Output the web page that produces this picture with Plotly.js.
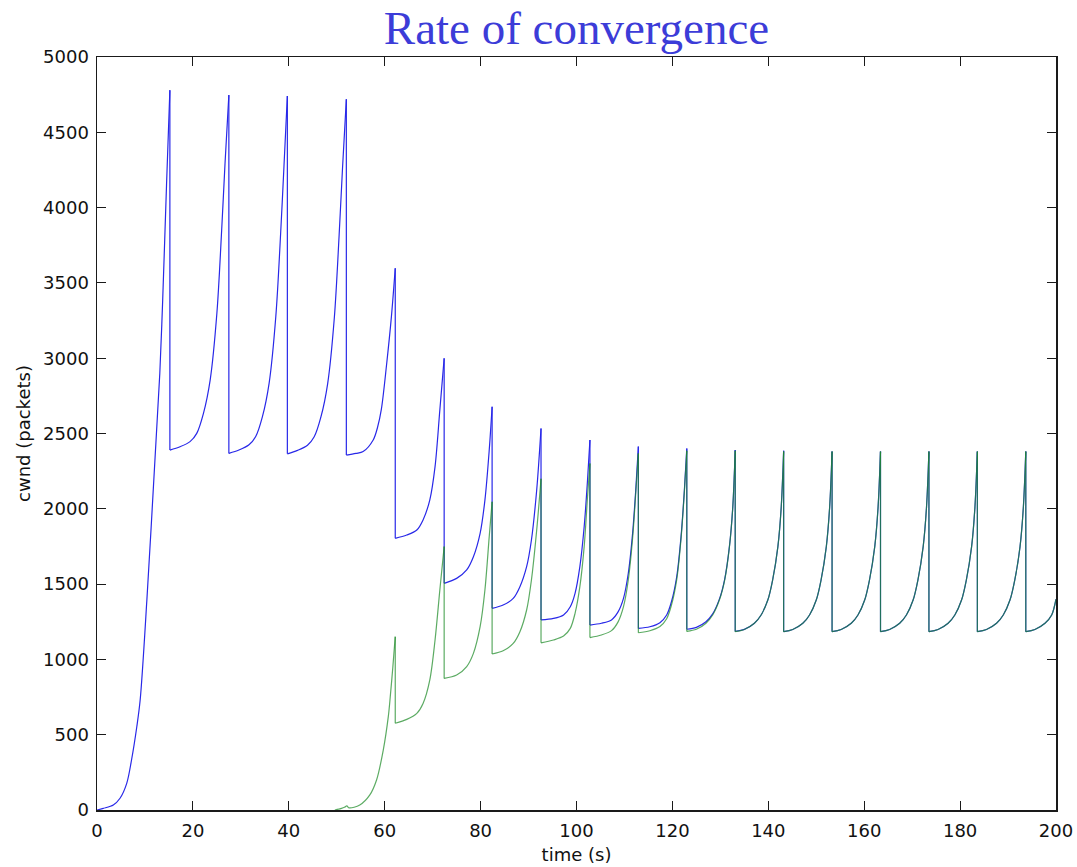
<!DOCTYPE html>
<html>
<head>
<meta charset="utf-8">
<script src="https://cdn.plot.ly/plotly-3.0.1.min.js"></script>
<style>html,body{margin:0;padding:0;background:#fff;}#chart{width:1077px;height:867px;}</style>
</head>
<body>
<div id="chart"></div>
<script>
// Values
const chartTitle = "Rate of convergence";
const xTitle = "time (s)";
const yTitle = "cwnd (packets)";

const blueT = [
  0, 1.3, 3.4, 4.8, 6.2, 7.2, 8.3, 9.0, 10.4, 12.2, 13.1, 13.7, 14.5, 15.2,
  15.2, 17.3, 19.4, 20.8, 22.2, 23.6, 25.0, 26.0, 26.7, 27.5,
  27.5, 29.6, 31.7, 33.1, 34.5, 35.9, 37.3, 38.3, 39.0, 39.7,
  39.7, 41.8, 43.9, 45.3, 46.7, 48.1, 49.5, 50.5, 51.2, 52.0,
  52.0, 54.0, 55.5, 57.6, 58.5, 59.3, 60.4, 61.4, 62.2,
  62.2, 64.6, 66.7, 68.0, 69.4, 70.5, 71.5, 72.4,
  72.4, 75.0, 77.1, 78.5, 79.9, 80.9, 81.8, 82.4,
  82.4, 84.7, 86.8, 88.2, 89.6, 90.6, 91.7, 92.6,
  92.6, 95.2, 97.3, 98.7, 99.7, 100.7, 101.6, 102.3, 102.8,
  102.8, 105.2, 107.3, 108.7, 109.8, 110.8, 111.7, 112.4, 112.9,
  112.9, 115.3, 117.4, 118.8, 119.8, 120.9, 121.8, 122.5, 123.0,
  123.0, 125.0, 127.0, 128.4, 129.8, 130.9, 131.9, 132.6, 133.1,
  133.1, 135.0, 137.1, 138.5, 139.9, 140.9, 142.0, 142.7, 143.2,
  143.2, 145.1, 147.2, 148.6, 150.0, 151.0, 152.1, 152.8, 153.3,
  153.3, 155.2, 157.3, 158.7, 160.1, 161.1, 162.2, 162.9, 163.4,
  163.4, 165.3, 167.4, 168.8, 170.2, 171.2, 172.3, 173.0, 173.5,
  173.5, 175.4, 177.5, 178.9, 180.3, 181.3, 182.4, 183.1, 183.6,
  183.6, 185.5, 187.6, 189.0, 190.4, 191.4, 192.5, 193.2, 193.7,
  193.7, 195.6, 197.7, 199.1, 200.0
];
const blueW = [
  0, 11, 33, 78, 177, 332, 553, 730, 1394, 2390, 2900, 3386, 4150, 4780,
  2390, 2412, 2446, 2501, 2634, 2855, 3298, 3851, 4294, 4747,
  2368, 2390, 2425, 2480, 2612, 2835, 3280, 3830, 4280, 4741,
  2365, 2388, 2422, 2478, 2610, 2830, 3270, 3820, 4260, 4719,
  2357, 2368, 2380, 2457, 2540, 2660, 2960, 3276, 3597,
  1804, 1826, 1859, 1926, 2058, 2280, 2656, 2999,
  1505, 1538, 1594, 1682, 1837, 2058, 2390, 2678,
  1339, 1361, 1405, 1483, 1616, 1793, 2125, 2533,
  1262, 1272, 1295, 1350, 1439, 1616, 1881, 2191, 2457,
  1228, 1240, 1262, 1317, 1405, 1572, 1837, 2147, 2413,
  1206, 1217, 1244, 1295, 1383, 1549, 1815, 2125, 2400,
  1200, 1213, 1250, 1302, 1400, 1532, 1752, 2016, 2390,
  1186, 1199, 1240, 1295, 1394, 1527, 1749, 2014, 2385,
  1184, 1199, 1240, 1295, 1394, 1527, 1749, 2014, 2380,
  1184, 1199, 1240, 1295, 1394, 1527, 1749, 2014, 2380,
  1184, 1199, 1240, 1295, 1394, 1527, 1749, 2014, 2380,
  1184, 1199, 1240, 1295, 1394, 1527, 1749, 2014, 2380,
  1184, 1199, 1240, 1295, 1394, 1527, 1749, 2014, 2380,
  1184, 1199, 1240, 1295, 1400
];

const greenT = [
  49.6, 51.0, 51.6, 52.1, 52.6, 54.8, 56.9, 58.3, 59.7, 60.75, 61.1, 61.7, 62.2,
  62.2, 64.6, 66.7, 68.0, 69.4, 70.5, 71.5, 72.4,
  72.4, 75.0, 77.1, 78.5, 79.9, 80.9, 81.8, 82.4,
  82.4, 84.7, 86.8, 88.2, 89.6, 90.6, 91.7, 92.6,
  92.6, 95.2, 97.3, 98.7, 99.7, 100.7, 101.6, 102.3, 102.8,
  102.8, 105.2, 107.3, 108.7, 109.8, 110.8, 111.7, 112.4, 112.9,
  112.9, 115.3, 117.4, 118.8, 119.8, 120.9, 121.8, 122.5, 123.0,
  123.0, 125.0, 127.0, 128.4, 129.8, 130.9, 131.9, 132.6, 133.1,
  133.1, 135.0, 137.1, 138.5, 139.9, 140.9, 142.0, 142.7, 143.2,
  143.2, 145.1, 147.2, 148.6, 150.0, 151.0, 152.1, 152.8, 153.3,
  153.3, 155.2, 157.3, 158.7, 160.1, 161.1, 162.2, 162.9, 163.4,
  163.4, 165.3, 167.4, 168.8, 170.2, 171.2, 172.3, 173.0, 173.5,
  173.5, 175.4, 177.5, 178.9, 180.3, 181.3, 182.4, 183.1, 183.6,
  183.6, 185.5, 187.6, 189.0, 190.4, 191.4, 192.5, 193.2, 193.7,
  193.7, 195.6, 197.7, 199.1, 200.0
];
const greenW = [
  0, 11, 18, 27, 14, 33, 100, 199, 398, 620, 730, 950, 1151,
  576, 602, 642, 708, 863, 1129, 1461, 1749,
  874, 896, 952, 1040, 1217, 1461, 1815, 2047,
  1036, 1057, 1106, 1184, 1328, 1527, 1859, 2200,
  1110, 1129, 1155, 1206, 1306, 1483, 1749, 2080, 2301,
  1145, 1162, 1191, 1251, 1350, 1527, 1804, 2125, 2368,
  1177, 1190, 1218, 1270, 1360, 1530, 1800, 2115, 2385,
  1186, 1200, 1240, 1295, 1394, 1527, 1749, 2014, 2385,
  1184, 1199, 1240, 1295, 1394, 1527, 1749, 2014, 2380,
  1184, 1199, 1240, 1295, 1394, 1527, 1749, 2014, 2380,
  1184, 1199, 1240, 1295, 1394, 1527, 1749, 2014, 2380,
  1184, 1199, 1240, 1295, 1394, 1527, 1749, 2014, 2380,
  1184, 1199, 1240, 1295, 1394, 1527, 1749, 2014, 2380,
  1184, 1199, 1240, 1295, 1394, 1527, 1749, 2014, 2380,
  1184, 1199, 1240, 1295, 1400
];

const xTickVals = [0, 20, 40, 60, 80, 100, 120, 140, 160, 180, 200];
const yTickVals = [0, 500, 1000, 1500, 2000, 2500, 3000, 3500, 4000, 4500, 5000];

// Split a series into smooth rising parts and the sharp vertical drops
// (a drop is where two consecutive points share the same time).
function splitSeries(t, w) {
  const rise = {x: [], y: []}, drop = {x: [], y: []};
  for (let i = 0; i < t.length; i++) {
    if (i > 0 && t[i] === t[i - 1]) {
      rise.x.push(null); rise.y.push(null);
      drop.x.push(t[i - 1], t[i], null);
      drop.y.push(w[i - 1], w[i], null);
    }
    rise.x.push(t[i]); rise.y.push(w[i]);
  }
  return {rise, drop};
}

function makeTraces(t, w, color, opacity, name) {
  const s = splitSeries(t, w);
  return [
    {x: s.rise.x, y: s.rise.y, type: 'scatter', mode: 'lines', name: name,
     line: {color: color, width: 1.2, shape: 'spline', smoothing: 0.9},
     connectgaps: false, opacity: opacity, hoverinfo: 'x+y'},
    {x: s.drop.x, y: s.drop.y, type: 'scatter', mode: 'lines', name: name, showlegend: false,
     line: {color: color, width: 1.2}, connectgaps: false, opacity: opacity, hoverinfo: 'skip'}
  ];
}

const traces = [].concat(
  makeTraces(blueT, blueW, 'rgb(40,40,232)', 1, 'flow 1'),
  makeTraces(greenT, greenW, 'rgb(30,140,40)', 0.72, 'flow 2')
);

const axisCommon = {
  showline: true, linecolor: '#1a1a1a', linewidth: 1.5, mirror: 'allticks',
  ticks: 'inside', ticklen: 9, tickwidth: 1, tickcolor: '#1a1a1a',
  showgrid: false, zeroline: false,
  tickfont: {family: 'DejaVu Sans', size: 18, color: '#111'}
};

const layout = {
  width: 1077, height: 867,
  margin: {l: 97, r: 21, t: 57, b: 57, pad: 0},
  paper_bgcolor: '#fff', plot_bgcolor: '#fff',
  showlegend: false,
  title: {text: chartTitle, font: {family: 'Liberation Serif', size: 47, color: '#3c3cd8'},
          xref: 'paper', x: 0.5, xanchor: 'center', yref: 'container', y: 1 - 28/867, yanchor: 'middle'},
  xaxis: Object.assign({}, axisCommon, {
    range: [0, 200], tickvals: xTickVals, ticklabelstandoff: 4,
    title: {text: xTitle, font: {family: 'DejaVu Sans', size: 18, color: '#111'}, standoff: 8}
  }),
  yaxis: Object.assign({}, axisCommon, {
    range: [0, 5000], tickvals: yTickVals, ticklabelstandoff: 3,
    title: {text: yTitle, font: {family: 'DejaVu Sans', size: 18, color: '#111'}, standoff: 8}
  })
};

Plotly.newPlot('chart', traces, layout, {displayModeBar: false, staticPlot: true});
</script>
</body>
</html>
